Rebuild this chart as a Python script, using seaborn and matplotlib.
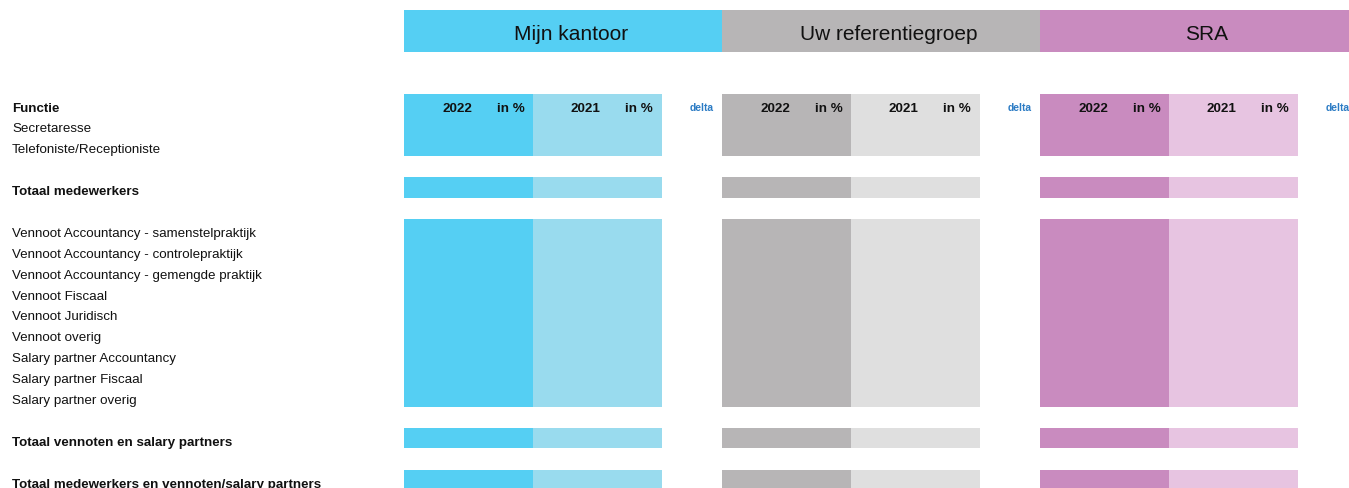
import matplotlib.pyplot as plt
import seaborn as sns

# header groups
groups = ['Mijn kantoor', 'Uw referentiegroep', 'SRA']
dark_colors = ['#55cff3', '#b7b5b6', '#c98bbf']
light_colors = ['#99dbee', '#dfdfdf', '#e7c4e1']

col_years = ['2022', '2021']

row_labels = [
    'Functie',
    'Secretaresse',
    'Telefoniste/Receptioniste',
    '',
    'Totaal medewerkers',
    '',
    'Vennoot Accountancy - samenstelpraktijk',
    'Vennoot Accountancy - controlepraktijk',
    'Vennoot Accountancy - gemengde praktijk',
    'Vennoot Fiscaal',
    'Vennoot Juridisch',
    'Vennoot overig',
    'Salary partner Accountancy',
    'Salary partner Fiscaal',
    'Salary partner overig',
    '',
    'Totaal vennoten en salary partners',
    '',
    'Totaal medewerkers en vennoten/salary partners',
]
bold_rows = ['Functie', 'Totaal medewerkers', 'Totaal vennoten en salary partners',
             'Totaal medewerkers en vennoten/salary partners']

sns.set_theme(style='white')
plt.rcParams['font.family'] = ['Liberation Sans', 'DejaVu Sans']

fig = plt.figure(figsize=(13.49, 4.89), dpi=100)
ax = fig.add_axes([0, 0, 1, 1])
ax.set_xlim(0, 1349)
ax.set_ylim(489, 0)
ax.axis('off')

row_y0 = 107
row_h = 20.9
group_x0 = [404, 722, 1040]
group_w = 318
col_w = 129

# find contiguous runs of filled rows -> coloured blocks
runs = []
start = None
for i, lab in enumerate(row_labels + ['']):
    if lab and start is None:
        start = i
    if not lab and start is not None:
        runs.append((start, i - 1))
        start = None

for g, name in enumerate(groups):
    x0 = group_x0[g]
    # top header band
    ax.bar(x0, 42, width=group_w, bottom=11, align='edge', color=dark_colors[g], linewidth=0)
    ax.text(x0 + 167, 33, name, ha='center', va='center_baseline', fontsize=15, color='#111111')

    for a, b in runs:
        top = row_y0 + a * row_h - 12.5
        h = (b - a) * row_h + 20.5
        ax.bar(x0, h, width=col_w, bottom=top, align='edge', color=dark_colors[g], linewidth=0)
        ax.bar(x0 + col_w, h, width=col_w, bottom=top, align='edge', color=light_colors[g], linewidth=0)

    for k, yr in enumerate(col_years):
        ax.text(x0 + 68 + k * 128, row_y0, yr, ha='right', va='center_baseline',
                fontsize=9.6, fontweight='bold', color='#111111')
        ax.text(x0 + 121 + k * 128, row_y0, 'in %', ha='right', va='center_baseline',
                fontsize=9.6, fontweight='bold', color='#111111')
    ax.text(x0 + 298, row_y0, 'delta', ha='center', va='center_baseline',
            fontsize=7.4, fontweight='bold', color='#2b7bc4')

for i, lab in enumerate(row_labels):
    if not lab:
        continue
    ax.text(12, row_y0 + i * row_h, lab, ha='left', va='center_baseline', fontsize=9.6,
            fontweight='bold' if lab in bold_rows else 'normal', color='#111111')

fig.savefig('out.png', dpi=100)
